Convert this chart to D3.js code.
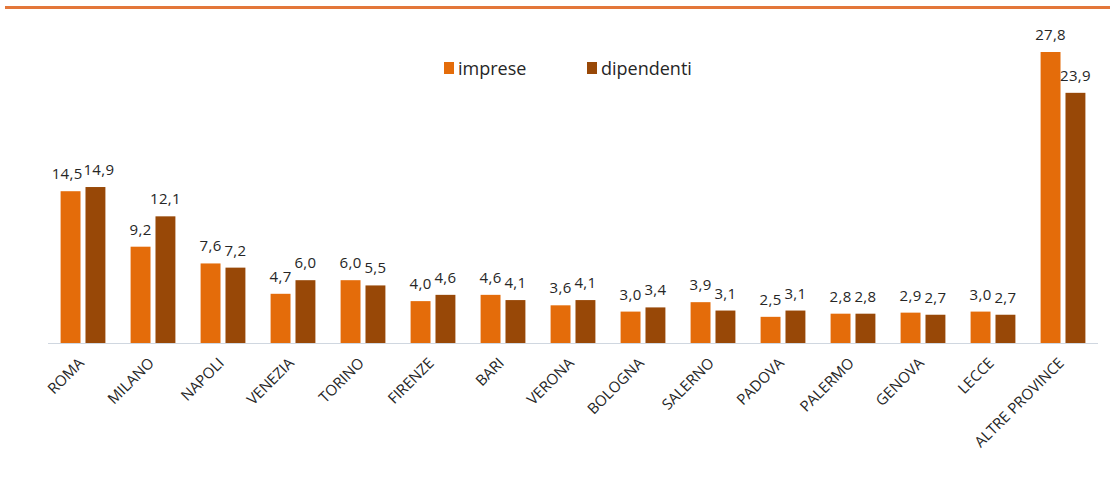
<!DOCTYPE html>
<html><head><meta charset="utf-8">
<script src="https://cdn.jsdelivr.net/npm/d3@7/dist/d3.min.js"></script>
<style>
html,body{margin:0;padding:0;background:#fff;}
svg{display:block;font-family:"Open Sans","Noto Sans",sans-serif;}
</style></head>
<body>
<svg id="chart" width="1110" height="479"></svg>
<script>
const categories = ["ROMA","MILANO","NAPOLI","VENEZIA","TORINO","FIRENZE","BARI","VERONA","BOLOGNA","SALERNO","PADOVA","PALERMO","GENOVA","LECCE","ALTRE PROVINCE"];
const imprese = [14.5,9.2,7.6,4.7,6.0,4.0,4.6,3.6,3.0,3.9,2.5,2.8,2.9,3.0,27.8];
const dipendenti = [14.9,12.1,7.2,6.0,5.5,4.6,4.1,4.1,3.4,3.1,3.1,2.8,2.7,2.7,23.9];
const seriesNames = ["imprese","dipendenti"];
const colors = ["#E46C0A","#984807"];

const fmt = v => v.toFixed(1).replace(".", ",");
const svg = d3.select("#chart");

// top rule
svg.append("rect").attr("x",5).attr("y",6).attr("width",1105).attr("height",3).attr("fill","#E3773A");

const x0 = d3.scaleBand().domain(categories).range([48,1098]).paddingInner(0.36).paddingOuter(0.18);
const x1 = d3.scaleBand().domain(seriesNames).range([0,x0.bandwidth()]).paddingInner(0.2);
const y = d3.scaleLinear().domain([0,27.8]).range([343,52]);

const data = categories.map((c,i)=>({cat:c, vals:[imprese[i],dipendenti[i]]}));

const g = svg.selectAll("g.cat").data(data).enter().append("g").attr("class","cat")
  .attr("transform",d=>`translate(${x0(d.cat)},0)`);

g.selectAll("rect").data(d=>d.vals.map((v,k)=>({v,k}))).enter().append("rect")
  .attr("x",d=>x1(seriesNames[d.k])).attr("width",x1.bandwidth())
  .attr("y",d=>y(d.v)).attr("height",d=>y(0)-y(d.v)).attr("fill",d=>colors[d.k]);

// value labels
g.each(function(d){
  const gg = d3.select(this);
  const labels = d.vals.map((v,k)=>gg.append("text")
    .attr("x", x1(seriesNames[k]) + x1.bandwidth()/2)
    .attr("y", y(v) - 12)
    .attr("text-anchor","middle")
    .attr("font-size",15).attr("letter-spacing",0.3).attr("fill","#262626").text(fmt(v)));
  const w0 = labels[0].node().getComputedTextLength(), w1 = labels[1].node().getComputedTextLength();
  const c0 = x1(seriesNames[0]) + x1.bandwidth()/2, c1 = x1(seriesNames[1]) + x1.bandwidth()/2;
  const yd = Math.abs(d.vals[0]-d.vals[1]);
  if (yd < 1.6) {
    const need = (w0+w1)/2 + 1 - (c1-c0);
    if (need > 0) { labels[0].attr("x", c0 - need/2); labels[1].attr("x", c1 + need/2); }
  }
});

// axis line
svg.append("line").attr("x1",48).attr("x2",1098).attr("y1",y(0)+0.5).attr("y2",y(0)+0.5)
  .attr("stroke","#D0D7E0").attr("stroke-width",1);

// category labels
svg.selectAll("text.cl").data(categories).enter().append("text").attr("class","cl")
  .attr("transform",d=>`translate(${x0(d)+x0.bandwidth()/2+2},364) rotate(-45)`)
  .attr("text-anchor","end").attr("font-size",15).attr("fill","#262626").text(d=>d);

// legend
const leg = svg.append("g");
const legX = [444,587];
seriesNames.forEach((s,k)=>{
  leg.append("rect").attr("x",legX[k]).attr("y",62).attr("width",10).attr("height",12).attr("fill",colors[k]);
  leg.append("text").attr("x",legX[k]+14).attr("y",75).attr("font-size",18).attr("fill","#262626").text(s);
});
</script>
</body></html>
